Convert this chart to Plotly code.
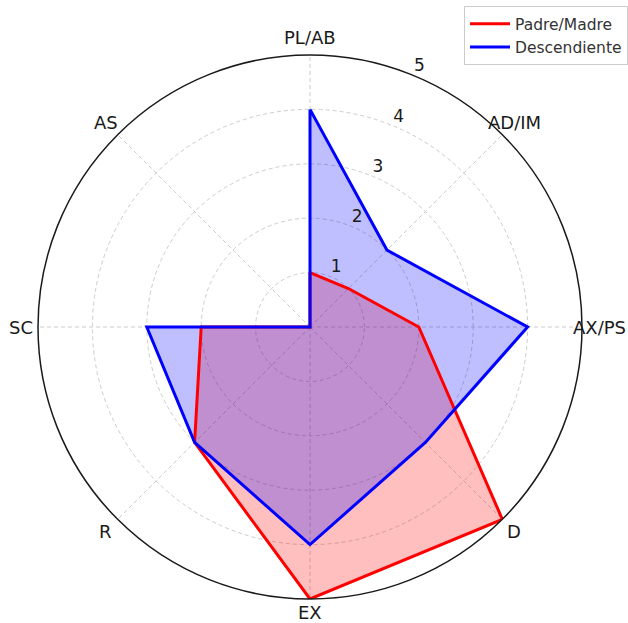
import math
import plotly.graph_objects as go

categories = ["PL/AB", "AD/IM", "AX/PS", "D", "EX", "R", "SC", "AS"]
padre = [1, 1, 2, 5, 5, 3, 2, 0]
desc = [4, 2, 4, 3, 4, 3, 3, 0]
radial_ticks = [1, 2, 3, 4, 5]

# angles (degrees, clockwise from top) for each category
step = 360 / len(categories)
angles = [i * step for i in range(len(categories))]

W, H = 628, 623
cx, cy, R = 310, 327, 272
label_pad = 17

series = [("Padre/Madre", padre, "red", "rgba(255,0,0,0.25)"),
          ("Descendiente", desc, "blue", "rgba(0,0,255,0.25)")]

fig = go.Figure()
# fills first
for name, vals, col, fcol in series:
    fig.add_trace(go.Scatterpolar(
        r=vals + [vals[0]], theta=angles + [360],
        mode="lines", line=dict(color=fcol, width=0),
        fill="toself", fillcolor=fcol,
        showlegend=False, hoverinfo="skip",
    ))
# outlines on top (also legend entries)
for name, vals, col, fcol in series:
    fig.add_trace(go.Scatterpolar(
        r=vals + [vals[0]], theta=angles + [360],
        mode="lines", name=name, line=dict(color=col, width=3),
    ))

# radial tick labels along 22.5 degrees
fig.add_trace(go.Scatterpolar(
    r=radial_ticks, theta=[step / 2] * len(radial_ticks), mode="text",
    text=[str(t) for t in radial_ticks], textposition="top right",
    textfont=dict(size=17, color="#1a1a1a", family="DejaVu Sans"),
    cliponaxis=False, showlegend=False, hoverinfo="skip",
))

# category labels centered just outside the outer circle
annotations = []
for cat, a in zip(categories, angles):
    rad = math.radians(a)
    px = cx + (R + label_pad) * math.sin(rad)
    py = cy - (R + label_pad) * math.cos(rad)
    py = min(py, H - 11)
    annotations.append(dict(
        x=px / W, y=1 - py / H, xref="paper", yref="paper",
        text=cat, showarrow=False, xanchor="center", yanchor="middle",
        font=dict(size=18, color="#1a1a1a", family="DejaVu Sans"),
    ))

fig.update_layout(
    width=W, height=H,
    margin=dict(l=0, r=0, t=0, b=0),
    paper_bgcolor="white",
    font=dict(family="DejaVu Sans", color="#1a1a1a"),
    annotations=annotations,
    polar=dict(
        domain=dict(x=[(cx - R) / W, (cx + R) / W],
                    y=[(H - cy - R) / H, (H - cy + R) / H]),
        bgcolor="white",
        radialaxis=dict(
            range=[0, 5], tickvals=radial_ticks,
            showticklabels=False, showline=False, ticks="",
            gridcolor="#cccccc", griddash="4px,3px", gridwidth=1,
        ),
        angularaxis=dict(
            type="linear", thetaunit="degrees",
            direction="clockwise", rotation=90,
            tickvals=angles, showticklabels=False,
            showline=True, linecolor="#1a1a1a", linewidth=1.5,
            ticks="",
            gridcolor="#cccccc", griddash="4px,3px", gridwidth=1,
        ),
    ),
    legend=dict(
        x=1.0, y=0.99, xanchor="right", yanchor="top",
        bordercolor="#cccccc", borderwidth=1, bgcolor="white",
        font=dict(size=15.5, color="#333333"),
        itemwidth=40,
    ),
)

fig.write_html(
    "out.html",
    config={"displayModeBar": False},
    post_script="document.body.style.margin='0';document.body.style.overflow='hidden';",
)
